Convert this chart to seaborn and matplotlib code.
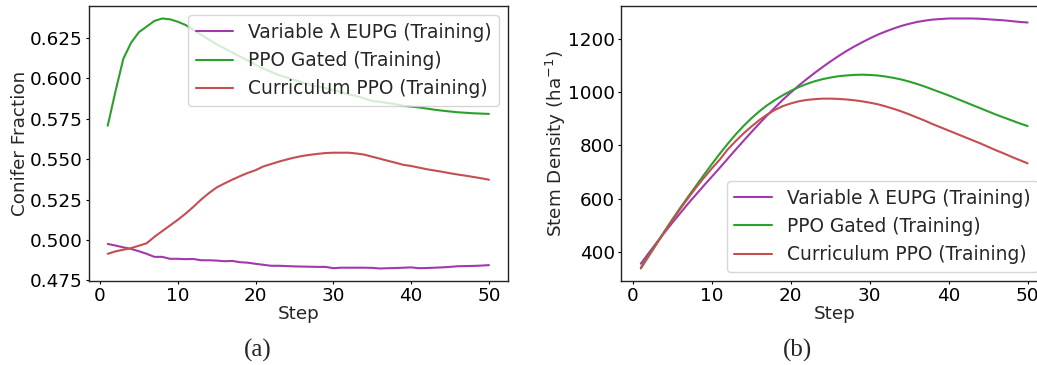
import numpy as np
import pandas as pd
import matplotlib
matplotlib.use("Agg")
import matplotlib.pyplot as plt
import seaborn as sns

steps = list(range(1, 51))
series_names = ["Variable λ EUPG (Training)", "PPO Gated (Training)", "Curriculum PPO (Training)"]

conifer_eupg = [0.4976, 0.4966, 0.4955, 0.4945, 0.4931, 0.4915, 0.4896, 0.4896, 0.4884, 0.4884,
                0.4882, 0.4883, 0.4875, 0.4875, 0.4873, 0.4869, 0.4871, 0.4863, 0.4860, 0.4853,
                0.4847, 0.4841, 0.4841, 0.4839, 0.4837, 0.4836, 0.4835, 0.4834, 0.4834, 0.4826,
                0.4829, 0.4829, 0.4829, 0.4829, 0.4828, 0.4824, 0.4826, 0.4827, 0.4829, 0.4831,
                0.4826, 0.4827, 0.4829, 0.4831, 0.4834, 0.4838, 0.4839, 0.4840, 0.4842, 0.4845]
conifer_gated = [0.5707, 0.5920, 0.6120, 0.6220, 0.6285, 0.6320, 0.6355, 0.6370, 0.6365, 0.6350,
                 0.6330, 0.6300, 0.6270, 0.6240, 0.6210, 0.6185, 0.6160, 0.6135, 0.6110, 0.6085,
                 0.6060, 0.6040, 0.6020, 0.6005, 0.5990, 0.5975, 0.5960, 0.5950, 0.5940, 0.5928,
                 0.5915, 0.5900, 0.5890, 0.5875, 0.5860, 0.5855, 0.5847, 0.5840, 0.5830, 0.5825,
                 0.5820, 0.5813, 0.5806, 0.5800, 0.5795, 0.5790, 0.5787, 0.5784, 0.5782, 0.5780]
conifer_curr = [0.4915, 0.4930, 0.4940, 0.4950, 0.4965, 0.4980, 0.5020, 0.5055, 0.5090, 0.5125,
                0.5163, 0.5205, 0.5250, 0.5290, 0.5325, 0.5350, 0.5373, 0.5395, 0.5415, 0.5432,
                0.5455, 0.5470, 0.5485, 0.5498, 0.5510, 0.5520, 0.5527, 0.5533, 0.5538, 0.5540,
                0.5540, 0.5540, 0.5535, 0.5528, 0.5515, 0.5503, 0.5490, 0.5478, 0.5465, 0.5458,
                0.5448, 0.5438, 0.5430, 0.5422, 0.5413, 0.5405, 0.5398, 0.5390, 0.5382, 0.5373]

density_eupg = [356, 396, 435, 473, 510, 546, 582, 616, 650, 683,
                716, 750, 784, 817, 850, 882, 913, 943, 972, 999,
                1025, 1049, 1072, 1094, 1115, 1135, 1154, 1171, 1187, 1202,
                1216, 1228, 1239, 1249, 1257, 1264, 1269, 1273, 1275, 1277,
                1277, 1277, 1277, 1276, 1274, 1272, 1270, 1267, 1264, 1262]
density_gated = [341, 387, 433, 478, 523, 566, 608, 649, 690, 730,
                 769, 806, 841, 873, 902, 928, 951, 971, 989, 1005,
                 1019, 1031, 1041, 1049, 1055, 1060, 1063, 1065, 1066, 1065,
                 1063, 1059, 1054, 1048, 1040, 1031, 1021, 1010, 999, 988,
                 976, 964, 952, 940, 928, 916, 905, 894, 883, 873]
density_curr = [338, 384, 430, 475, 519, 562, 603, 642, 679, 714,
                747, 785, 816, 845, 871, 895, 916, 934, 948, 958,
                966, 971, 974, 976, 976, 975, 973, 970, 966, 961,
                955, 947, 938, 928, 917, 905, 893, 880, 868, 856,
                844, 832, 820, 808, 795, 782, 770, 757, 745, 733]

colors = ["#a03aaa", "#2ca02c", "#c44e52"]

def long_df(a, b, c):
    return pd.DataFrame({
        "Step": steps * 3,
        "value": list(a) + list(b) + list(c),
        "series": [series_names[0]] * 50 + [series_names[1]] * 50 + [series_names[2]] * 50,
    })

sns.set_style("ticks")
plt.rcParams["font.family"] = ["DejaVu Sans"]
fs = 13.2

fig = plt.figure(figsize=(10.37, 3.65), dpi=100)
ax1 = fig.add_axes([0.0855, 0.2301, 0.4044, 0.7535])
ax2 = fig.add_axes([0.5993, 0.2301, 0.4103, 0.7535])

palette = dict(zip(series_names, colors))
sns.lineplot(data=long_df(conifer_eupg, conifer_gated, conifer_curr), x="Step", y="value",
             hue="series", palette=palette, ax=ax1, linewidth=1.5)
sns.lineplot(data=long_df(density_eupg, density_gated, density_curr), x="Step", y="value",
             hue="series", palette=palette, ax=ax2, linewidth=1.5)

ax1.set_ylabel("Conifer Fraction", fontsize=fs, labelpad=0.5)
ax2.set_ylabel(r"Stem Density (ha$^{-1}$)", fontsize=fs, labelpad=0.5)
for ax in (ax1, ax2):
    ax.set_xlabel("Step", fontsize=fs, labelpad=0)
    ax.tick_params(labelsize=fs, colors="black", length=2.5, width=0.8, pad=2)
    for s in ax.spines.values():
        s.set_color("#222222")
        s.set_linewidth(1.0)
    ax.set_xticks([0, 10, 20, 30, 40, 50])

ax1.legend(loc="upper right", fontsize=13.4, title=None, framealpha=0.8)
ax2.legend(loc="lower right", fontsize=13.4, title=None, framealpha=0.8)

fig.text(0.249, 0.04, "(a)", family="Liberation Serif", fontsize=18, ha="center", va="center")
fig.text(0.769, 0.04, "(b)", family="Liberation Serif", fontsize=18, ha="center", va="center")

fig.savefig("out.png", dpi=100)
